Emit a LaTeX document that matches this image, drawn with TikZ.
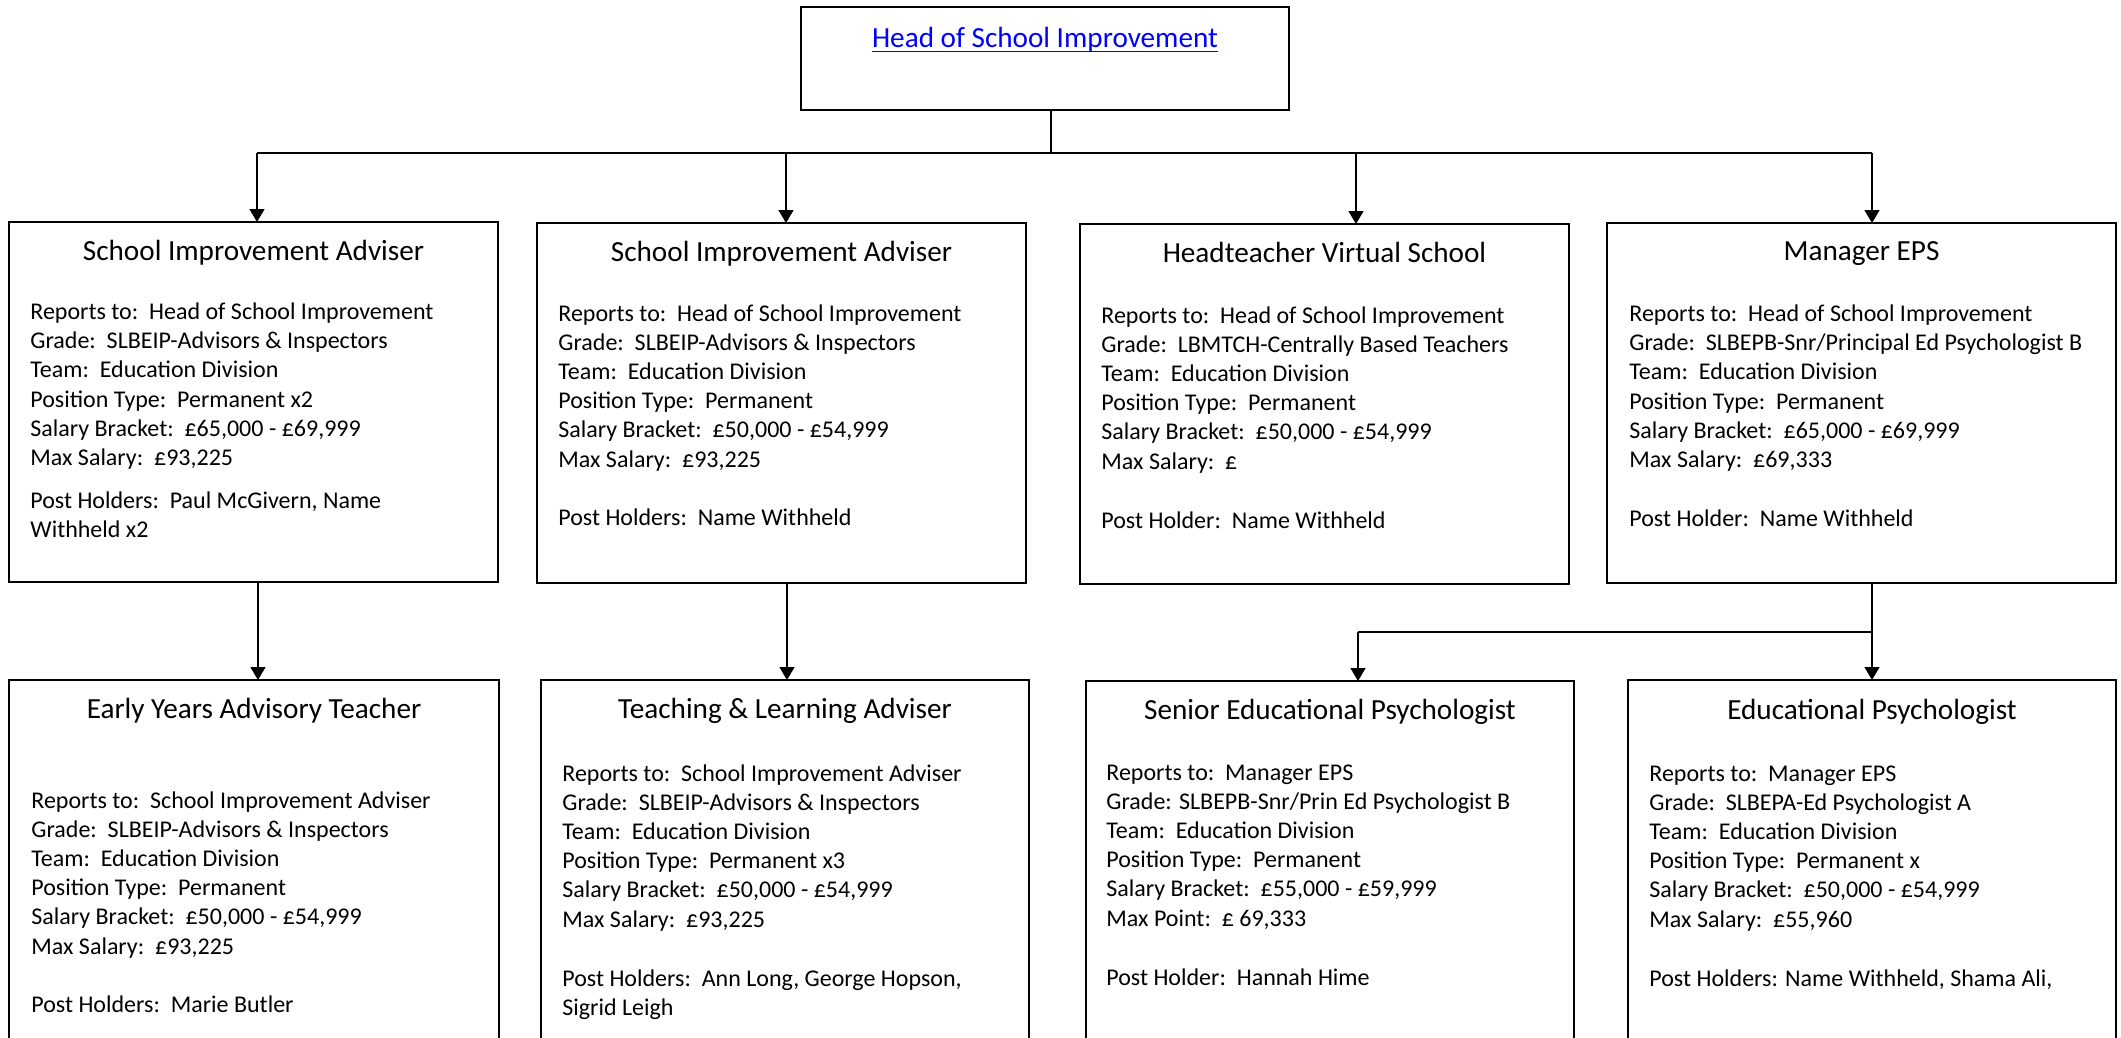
\documentclass[tikz,border=0pt]{standalone}
\usepackage{fontspec}
\setmainfont{Carlito}
\usetikzlibrary{arrows.meta,fit}
\newcommand\fbody{\fontsize{12pt}{14pt}\selectfont}
\newcommand\ftitle{\fontsize{14.6pt}{17pt}\selectfont}
\newcommand\placelines[4]{%
  \foreach \t [count=\i] in {#4}
    \node[body] (#1-\i) at (#2,{#3+(\i-1)*29.2}) {\t};}
\tikzset{
  box/.style={draw, line width=0.8pt, inner sep=0pt, outer sep=0pt, rectangle},
  body/.style={anchor=base west, inner sep=0pt, font=\fbody},
  ttl/.style={anchor=base, inner sep=0pt, font=\ftitle},
  conn/.style={line width=0.7pt},
  arr/.style={line width=0.7pt, -{Triangle[width=7.5pt,length=6.5pt]}}
}
\begin{document}
\begin{tikzpicture}[x=0.5pt,y=-0.5pt]
\useasboundingbox (0,0) rectangle (2121,1038);
\clip (0,0) rectangle (2121,1038);
% ---------- boxes ----------
\node[box, fit={(801,7) (1289,110)}] (head) {};
\node[box, fit={(9,222) (498,582)}] (b1) {};
\node[box, fit={(537,223) (1026,583)}] (b2) {};
\node[box, fit={(1080,224) (1569,584)}] (b3) {};
\node[box, fit={(1607,223) (2116,583)}] (b4) {};
\node[box, fit={(9,680) (499,1080)}] (c1) {};
\node[box, fit={(541,680) (1029,1080)}] (c2) {};
\node[box, fit={(1086,681) (1574,1080)}] (c3) {};
\node[box, fit={(1628,680) (2116,1080)}] (c4) {};
% ---------- head ----------
\node[ttl, text=blue] (headt) at (1045,48) {Head of School Improvement};
\draw[blue, line width=0.6pt] ([yshift=-1.8pt]headt.base west) -- ([yshift=-1.8pt]headt.base east);
% ---------- row 1 ----------
\node[ttl] (b1t) at (253.5,260) {School Improvement Adviser};
\placelines{b1l}{30}{319.5}{{Reports to:\ \ Head of School Improvement},{Grade:\ \ SLBEIP-Advisors \& Inspectors},{Team:\ \ Education Division},{Position Type:\ \ Permanent x2},{Salary Bracket:\ \ £65,000 - £69,999},{Max Salary:\ \ £93,225}}
\node[body] (b1p) at (30,508) {Post Holders:\ \ Paul McGivern, Name};
\node[body] (b1q) at (30,537) {Withheld x2};

\node[ttl] (b2t) at (781.5,261) {School Improvement Adviser};
\placelines{b2l}{558}{321}{{Reports to:\ \ Head of School Improvement},{Grade:\ \ SLBEIP-Advisors \& Inspectors},{Team:\ \ Education Division},{Position Type:\ \ Permanent},{Salary Bracket:\ \ £50,000 - £54,999},{Max Salary:\ \ £93,225}}
\node[body] (b2p) at (558,525) {Post Holders:\ \ Name Withheld};

\node[ttl] (b3t) at (1324.5,262) {Headteacher Virtual School};
\placelines{b3l}{1101}{323}{{Reports to:\ \ Head of School Improvement},{Grade:\ \ LBMTCH-Centrally Based Teachers},{Team:\ \ Education Division},{Position Type:\ \ Permanent},{Salary Bracket:\ \ £50,000 - £54,999},{Max Salary:\ \ £}}
\node[body] (b3p) at (1101,528) {Post Holder:\ \ Name Withheld};

\node[ttl] (b4t) at (1861.5,260) {Manager EPS};
\placelines{b4l}{1629}{321.5}{{Reports to:\ \ Head of School Improvement},{Grade:\ \ SLBEPB-Snr/Principal Ed Psychologist B},{Team:\ \ Education Division},{Position Type:\ \ Permanent},{Salary Bracket:\ \ £65,000 - £69,999},{Max Salary:\ \ £69,333}}
\node[body] (b4p) at (1629,526.5) {Post Holder:\ \ Name Withheld};
% ---------- row 2 ----------
\node[ttl] (c1t) at (254,718) {Early Years Advisory Teacher};
\placelines{c1l}{31}{808}{{Reports to:\ \ School Improvement Adviser},{Grade:\ \ SLBEIP-Advisors \& Inspectors},{Team:\ \ Education Division},{Position Type:\ \ Permanent},{Salary Bracket:\ \ £50,000 - £54,999},{Max Salary:\ \ £93,225}}
\node[body] (c1p) at (31,1012) {Post Holders:\ \ Marie Butler};

\node[ttl] (c2t) at (785,718) {Teaching \& Learning Adviser};
\placelines{c2l}{562}{781}{{Reports to:\ \ School Improvement Adviser},{Grade:\ \ SLBEIP-Advisors \& Inspectors},{Team:\ \ Education Division},{Position Type:\ \ Permanent x3},{Salary Bracket:\ \ £50,000 - £54,999},{Max Salary:\ \ £93,225}}
\node[body] (c2p) at (562,986) {Post Holders:\ \ Ann Long, George Hopson,};
\node[body] (c2q) at (562,1015) {Sigrid Leigh};

\node[ttl] (c3t) at (1330,719) {Senior Educational Psychologist};
\placelines{c3l}{1106}{780}{{Reports to:\ \ Manager EPS},{Grade: SLBEPB-Snr/Prin Ed Psychologist B},{Team:\ \ Education Division},{Position Type:\ \ Permanent},{Salary Bracket:\ \ £55,000 - £59,999},{Max Point:\ \ £ 69,333}}
\node[body] (c3p) at (1106,985) {Post Holder:\ \ Hannah Hime};

\node[ttl] (c4t) at (1872,719) {Educational Psychologist};
\placelines{c4l}{1649}{781}{{Reports to:\ \ Manager EPS},{Grade:\ \ SLBEPA-Ed Psychologist A},{Team:\ \ Education Division},{Position Type:\ \ Permanent x},{Salary Bracket:\ \ £50,000 - £54,999},{Max Salary:\ \ £55,960}}
\node[body] (c4p) at (1649,986) {Post Holders: Name Withheld, Shama Ali,};
% ---------- connectors ----------
\coordinate (stem) at (1051,153);
\coordinate (x1) at (257,153);
\coordinate (x2) at (786,153);
\coordinate (x3) at (1356,153);
\coordinate (x4) at (1872,153);
\draw[conn] (head.south -| stem) -- (stem);
\draw[conn] (x1) -- (x4);
\draw[arr] (x1) -- (x1 |- b1.north);
\draw[arr] (x2) -- (x2 |- b2.north);
\draw[arr] (x3) -- (x3 |- b3.north);
\draw[arr] (x4) -- (x4 |- b4.north);
\coordinate (d1) at (258,600);
\coordinate (d2) at (787,600);
\draw[arr] (d1 |- b1.south) -- (d1 |- c1.north);
\draw[arr] (d2 |- b2.south) -- (d2 |- c2.north);
\coordinate (m) at (1872,632);
\coordinate (s) at (1358,632);
\draw[conn] (m |- b4.south) -- (m);
\draw[conn] (m) -- (s);
\draw[arr] (m) -- (m |- c4.north);
\draw[arr] (s) -- (s |- c3.north);
\end{tikzpicture}
\end{document}
